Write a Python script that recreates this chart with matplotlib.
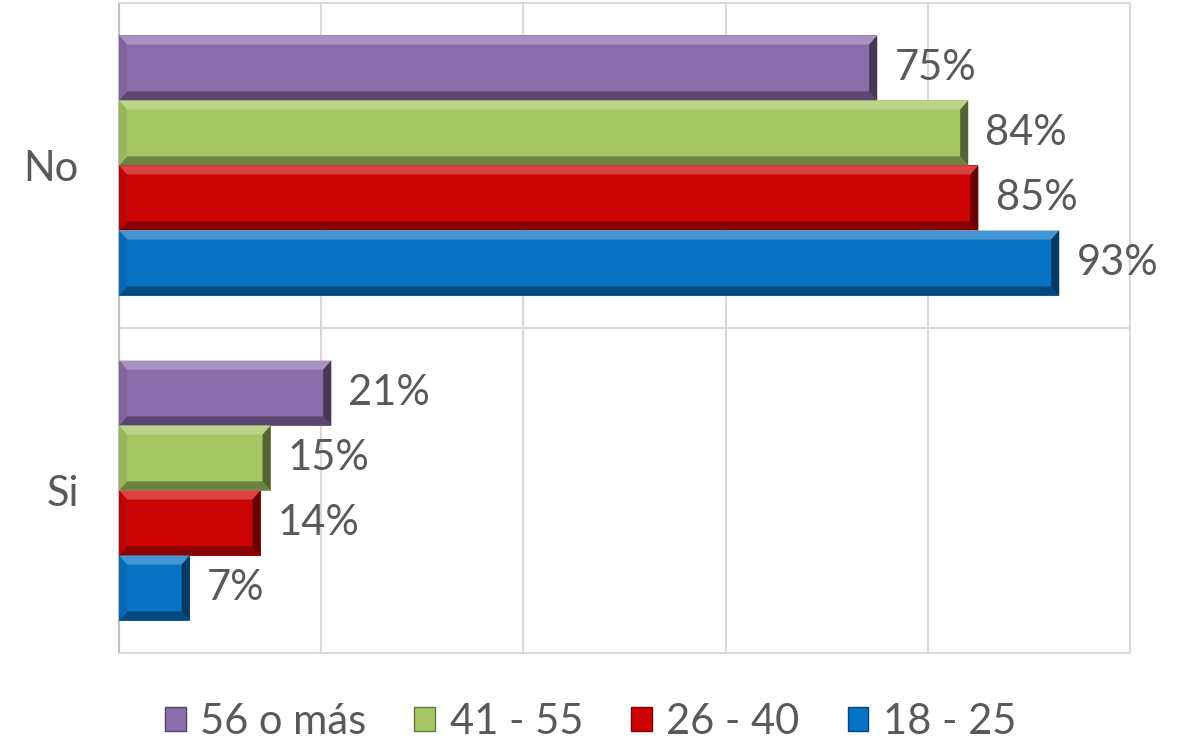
import matplotlib.pyplot as plt
from matplotlib.patches import Polygon, Patch
import matplotlib.colors as mcolors
import numpy as np

categories = ["Si", "No"]
series = ["56 o más", "41 - 55", "26 - 40", "18 - 25"]
values = {
    "56 o más": [21, 75],
    "41 - 55": [15, 84],
    "26 - 40": [14, 85],
    "18 - 25": [7, 93],
}
colors = ["#8a6dab", "#a5c663", "#cc0404", "#0872c4"]

plt.rcParams['font.family'] = ['Lato', 'DejaVu Sans']
TEXT = "#595959"


def shade(c, f):
    r = np.array(mcolors.to_rgb(c))
    if f > 0:
        r = r + (1 - r) * f
    else:
        r = r * (1 + f)
    return np.clip(r, 0, 1)


def bevel_bar(ax, y, w, h, c, bx=0.8, by=0.028):
    y0, y1 = y - h / 2, y + h / 2
    ax.add_patch(Polygon([(0, y0), (w, y0), (w, y1), (0, y1)], closed=True,
                         facecolor=c, edgecolor="none", zorder=3))
    # top highlight
    ax.add_patch(Polygon([(0, y1), (w, y1), (w - bx, y1 - by), (bx, y1 - by)],
                         facecolor=shade(c, 0.25), edgecolor="none", zorder=4))
    # bottom shadow
    ax.add_patch(Polygon([(0, y0), (w, y0), (w - bx, y0 + by), (bx, y0 + by)],
                         facecolor=shade(c, -0.35), edgecolor="none", zorder=4))
    # right shadow
    ax.add_patch(Polygon([(w, y0), (w, y1), (w - bx, y1 - by), (w - bx, y0 + by)],
                         facecolor=shade(c, -0.5), edgecolor="none", zorder=4))
    # left light
    ax.add_patch(Polygon([(0, y0), (0, y1), (bx, y1 - by), (bx, y0 + by)],
                         facecolor=shade(c, -0.08), edgecolor="none", zorder=4))


fig = plt.figure(figsize=(11.81, 7.48), dpi=100)
ax = fig.add_axes([119 / 1181, (748 - 653) / 748, (1130 - 119) / 1181, 650 / 748])

bar_h = 0.2
for ci, cat in enumerate(categories):
    for si, s in enumerate(series):
        y = ci + 0.3 - si * bar_h
        v = values[s][ci]
        bevel_bar(ax, y, v, bar_h, colors[si])
        ax.text(v + 1.7, y, f"{v}%", va="center", ha="left",
                fontsize=30, color=TEXT, zorder=5)

ax.set_xlim(0, 100)
ax.set_ylim(-0.5, 1.5)
ax.set_xticks(np.arange(0, 101, 20))
ax.set_xticklabels([])
ax.tick_params(axis="x", length=0)
ax.set_yticks([0, 1])
ax.set_yticklabels(categories, fontsize=30, color=TEXT)
ax.tick_params(axis="y", length=0, pad=29)
ax.grid(axis="x", color="#d9d9d9", linewidth=1.5, zorder=0)
ax.axhline(0.5, color="#d9d9d9", linewidth=1.5, zorder=1)
for sp in ax.spines.values():
    sp.set_color("#d9d9d9")
    sp.set_linewidth(1.5)
ax.spines["left"].set_color("#bfbfbf")

handles = [Patch(facecolor=c, edgecolor=shade(c, -0.4), linewidth=1) for c in colors]
leg = fig.legend(handles, series, loc="center", bbox_to_anchor=(0.5, (748 - 722) / 748),
                 ncol=4, frameon=False, fontsize=30, handlelength=0.5, handleheight=0.5,
                 handletextpad=0.35, columnspacing=1.15)
for t in leg.get_texts():
    t.set_color(TEXT)

fig.savefig("out.png", dpi=100)
